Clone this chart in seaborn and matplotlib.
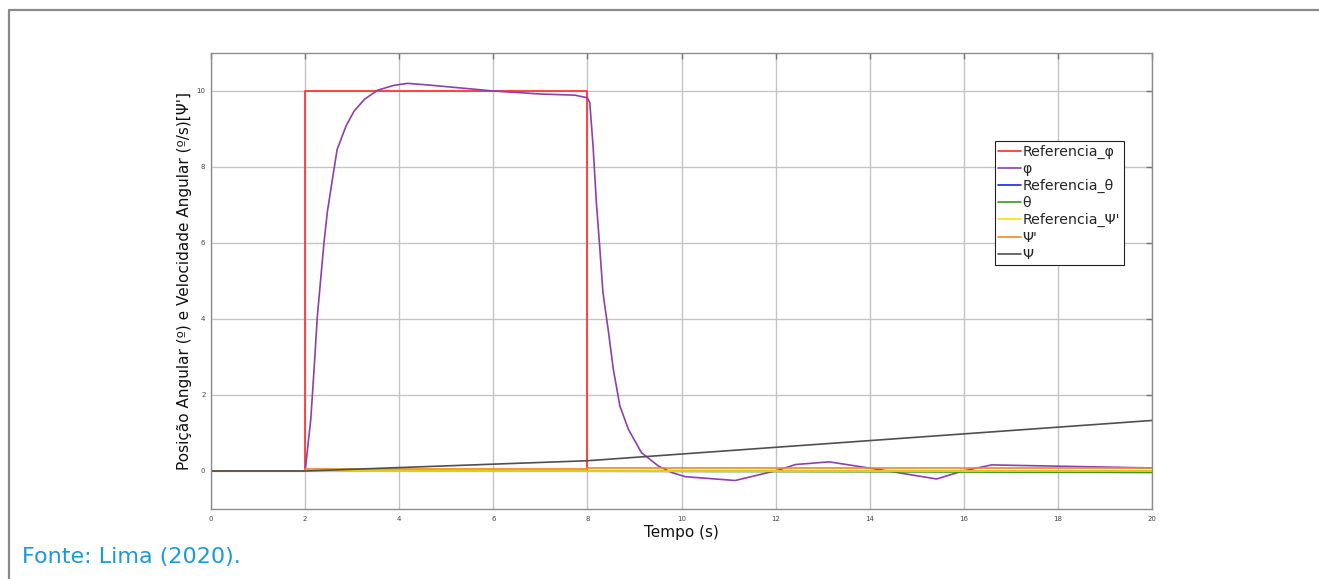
import pandas as pd
import matplotlib
matplotlib.use("Agg")
import matplotlib.pyplot as plt
from matplotlib.lines import Line2D
import seaborn as sns

# data
t_ref_phi = [0, 2, 2, 8, 8, 20]
ref_phi = [0, 0, 10, 10, 0, 0]

t_phi = [0, 2, 2.12, 2.19, 2.26, 2.33, 2.40, 2.47, 2.58, 2.68, 2.87, 3.04, 3.26,
         3.54, 3.89, 4.18, 4.6, 5.3, 6.0, 7.0, 7.73, 8.0, 8.05, 8.12, 8.19, 8.26,
         8.33, 8.44, 8.55, 8.69, 8.87, 9.15, 9.51, 9.79, 10.08, 11.14, 12.05,
         12.42, 13.14, 14.24, 15.42, 15.98, 16.59, 20]
phi = [0, 0, 1.36, 2.68, 4.08, 5.04, 6.0, 6.8, 7.68, 8.46, 9.08, 9.47, 9.78,
       10.02, 10.15, 10.2, 10.16, 10.08, 10.0, 9.92, 9.89, 9.82, 9.69, 8.55, 7.06,
       5.92, 4.69, 3.73, 2.68, 1.71, 1.1, 0.48, 0.13, -0.04, -0.15, -0.25, 0.02,
       0.17, 0.24, 0.03, -0.21, 0.0, 0.16, 0.08]

t_ref_theta = [0, 20]
ref_theta = [0, 0]

t_theta = [0, 2, 8, 14, 20]
theta = [0, 0, -0.005, -0.02, -0.04]

t_ref_psid = [0, 20]
ref_psid = [0, 0]

t_psid = [0, 2, 2, 8, 8, 20]
psid = [0, 0, 0.045, 0.045, 0.088, 0.088]

t_psi = [0, 2, 8, 20]
psi = [0, 0, 0.27, 1.33]

names = ["Referencia_φ", "φ", "Referencia_θ", "θ", "Referencia_Ψ'", "Ψ'", "Ψ"]
series = [(t_ref_phi, ref_phi), (t_phi, phi), (t_ref_theta, ref_theta),
          (t_theta, theta), (t_ref_psid, ref_psid), (t_psid, psid), (t_psi, psi)]
colors = ["#ff2b2b", "#8e3fae", "#2020ff", "#3c9a1c", "#ffdc14", "#f08a1c", "#505050"]

frames = []
for name, (tt, vv) in zip(names, series):
    frames.append(pd.DataFrame({"Tempo": tt, "Valor": vv, "Serie": name}))
df = pd.concat(frames, ignore_index=True)

sns.set_style("whitegrid")
plt.rcParams["font.family"] = ["DejaVu Sans"]

fig = plt.figure(figsize=(13.19, 5.79), dpi=100)
ax = fig.add_axes([0.16, 0.1209, 0.7134, 0.7876])

sns.lineplot(data=df, x="Tempo", y="Valor", hue="Serie", hue_order=names,
             palette=dict(zip(names, colors)), estimator=None, sort=False,
             linewidth=1.2, ax=ax, legend=False)

ax.set_xlim(0, 20)
ax.set_ylim(-1, 11)
ax.set_xticks(range(0, 21, 2))
ax.set_yticks(range(0, 11, 2))
ax.grid(True, color="#c4c4c4", linewidth=1)
for s in ax.spines.values():
    s.set_color("#8c8c8c")
    s.set_linewidth(1)
ax.tick_params(direction="in", top=True, right=True, length=4, width=1,
               color="#777777", labelsize=5, labelcolor="#444444")
ax.tick_params(axis="y", pad=4)
ax.tick_params(axis="x", pad=5)
ax.set_xlabel("Tempo (s)", fontsize=11, color="#111111", labelpad=2)
ax.set_ylabel("Posição Angular (º) e Velocidade Angular (º/s)[Ψ']", fontsize=11,
              color="#111111", labelpad=3)

handles = [Line2D([0], [0], color=c, lw=1.2) for c in colors]
leg = ax.legend(handles, names, loc="upper left", bbox_to_anchor=(0.833, 0.807),
                fontsize=10.2, frameon=True, fancybox=False, framealpha=1,
                edgecolor="#222222", labelspacing=0.22, handlelength=1.6,
                handletextpad=0.1, borderpad=0.25, borderaxespad=0)
leg.get_frame().set_linewidth(0.8)

# outer frame lines of the figure box
fig.add_artist(Line2D([0.0068, 0.0068], [0, 0.9827], color="#8a8a8a", lw=1.6,
                      transform=fig.transFigure))
fig.add_artist(Line2D([0.0068, 1.0], [0.9827, 0.9827], color="#8a8a8a", lw=1.6,
                      transform=fig.transFigure))

fig.text(0.0167, 0.028, "Fonte: Lima (2020).", fontsize=16, color="#1a9ad6",
         family=["DejaVu Sans"])

fig.savefig("out.png", dpi=100, facecolor="white")
